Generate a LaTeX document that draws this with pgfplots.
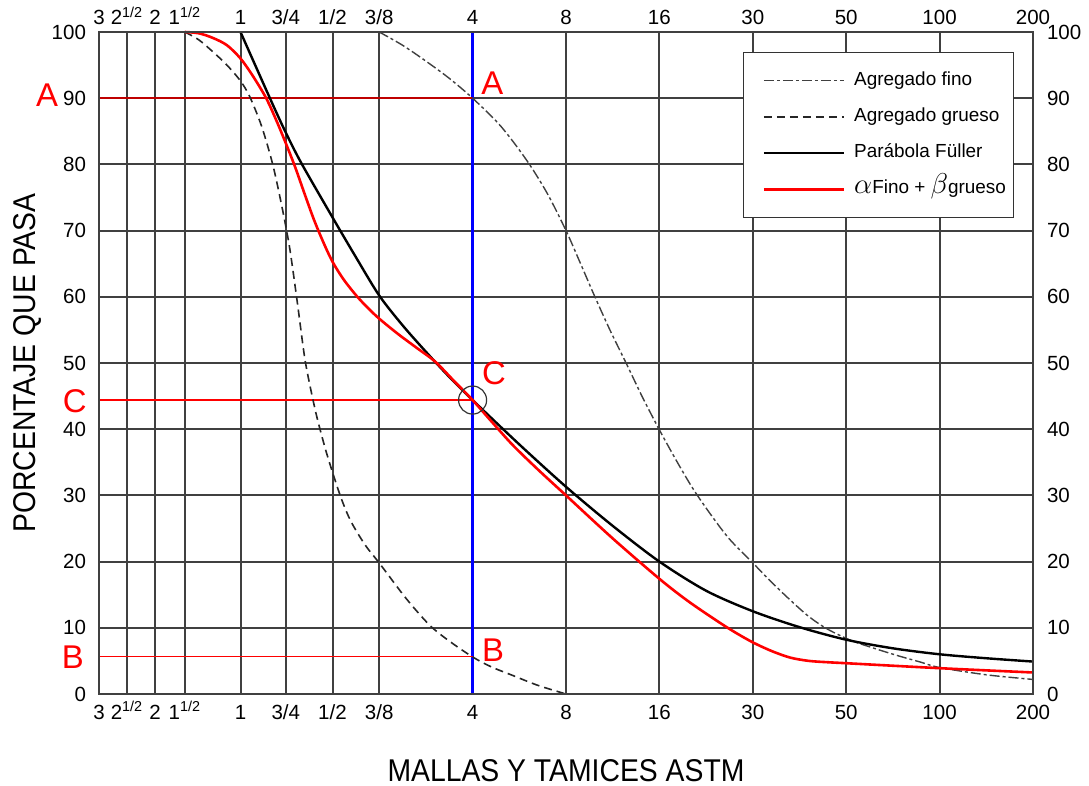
\documentclass[border=0pt]{standalone}
\usepackage{fontspec}
\setmainfont{Liberation Sans}
\newfontfamily\narrowsans[FakeStretch=0.9]{Liberation Sans}
\usepackage{pgfplots}
\pgfplotsset{compat=1.18}

% x position of each sieve: one unit per halving of the opening, 3 in. at 0
\pgfplotsset{
  sieveaxis/.style={
    scale only axis, width=467bp, height=331bp,
    xmin=0, xmax=10, ymin=0, ymax=100,
    xtick={0,0.3,0.6,0.92,1.515,2,2.5,3,4,5,6,7,8,9,10},
    xticklabels={3,2\textsuperscript{1/2},2,1\textsuperscript{1/2},1,3/4,1/2,3/8,4,8,16,30,50,100,200},
    ytick={0,10,...,100},
    major tick length=0pt,
    tick label style={font=\fontsize{10.3}{12}\selectfont},
    xticklabel style={text height=7.5bp, text depth=2bp},
    /pgf/number format/assume math mode=true,
    axis line style={black!75, line width=1bp},
  },
}
\tikzset{redlbl/.style={font=\fontsize{16.5}{16.5}\selectfont, text=red, inner sep=0pt}}

\begin{document}
\begin{tikzpicture}
\begin{axis}[
  sieveaxis, name=main, clip=false,
  grid=major, grid style={black!75, line width=1bp},
  yticklabel style={xshift=-3bp},
  xticklabel style={yshift=-1.5bp},
  legend style={at={(0.979,0.970)}, anchor=north east, draw=black!80, fill=white,
    font=\fontsize{9.5}{11}\selectfont, inner xsep=3.5bp, inner ysep=9.5bp, row sep=8.6bp,
    nodes={inner sep=0pt, text height=7bp, text depth=2.5bp},
    /tikz/every odd column/.append style={column sep=4.5bp}},
  legend cell align=left,
  legend image code/.code={\path (0bp,0bp); \draw[#1] (6bp,0bp) -- (46bp,0bp);},
]
% reference lines A, B, C and sieve No. 4
\addplot[forget plot, blue, line width=1.4bp] coordinates {(4,0) (4,100)};
\addplot[forget plot, red!75!black, line width=1bp] coordinates {(0,90) (4,90)};
\addplot[forget plot, red, line width=0.7bp] coordinates {(0,44.4) (4,44.4)};
\addplot[forget plot, red, line width=0.7bp] coordinates {(0,5.7) (4,5.7)};

% agregado fino
\addplot[black!75, line width=0.7bp, dash pattern=on 5bp off 1.5bp on 1.5bp off 1.5bp, smooth] coordinates {
  (3.0,100) (3.25,98) (3.5,95.6) (3.75,93) (4.0,90) (4.3,85.8) (4.58,80.6) (4.8,75.6)
  (5.0,70) (5.15,65.2) (5.3,60.3) (5.47,55) (5.65,49.8) (5.82,44.8) (6.0,39.9)
  (6.18,35.3) (6.36,31.0) (6.55,27.1) (6.75,23.4) (7.0,19.8) (7.2,16.9) (7.4,14.2)
  (7.6,11.7) (7.8,9.8) (8.05,8.1) (8.3,6.9) (8.55,5.8) (8.8,4.8) (9.0,4.0) (9.5,2.9) (10,2.2)};
\addlegendentry{Agregado fino}
% agregado grueso
\addplot[black!85, line width=0.8bp, dash pattern=on 4bp off 2.5bp, smooth] coordinates {
  (0.92,100) (1.07,98.8) (1.22,97.0) (1.37,95.0) (1.515,92.6) (1.615,90.2) (1.74,85.8)
  (1.86,80) (1.96,73.5) (2.04,67.5) (2.12,59.5) (2.2,51) (2.26,46.5) (2.33,42)
  (2.42,37.2) (2.5,33.5) (2.6,29.3) (2.7,26) (2.85,22.5) (3.0,19.8) (3.29,14.4)
  (3.54,10.4) (3.75,8.0) (4.0,5.6) (4.2,4.1) (4.43,2.8) (4.7,1.3) (5.0,0)};
\addlegendentry{Agregado grueso}
% parabola de Fuller
\addplot[black, line width=1.2bp, smooth] coordinates {
  (1.515,100) (1.83,90) (2.0,84.8) (2.17,80.1) (2.5,72) (2.75,66) (3.0,60.2) (3.25,55.7)
  (3.5,51.7) (3.75,47.9) (4.0,44.4) (4.5,37.7) (5.0,31.3) (5.5,25.4) (6.0,20) (6.5,15.6)
  (7.0,12.5) (7.5,10.1) (8.0,8.2) (8.5,6.9) (9.0,6.0) (9.5,5.4) (10,4.9)};
\addlegendentry{Parábola Füller}
% mezcla
\addplot[red, line width=1.3bp, smooth] coordinates {
  (0.92,100) (1.07,99.8) (1.22,99.1) (1.37,98.0) (1.515,96.0) (1.65,93.3) (1.79,90)
  (1.9,86.6) (2.0,83.2) (2.1,79.6) (2.2,75.6) (2.3,71.7) (2.4,68.3) (2.5,65.3)
  (2.62,62.6) (2.76,60.1) (2.88,58.3) (3.0,56.7) (3.2,54.4) (3.4,52.3) (3.6,50.2)
  (3.8,47.3) (4.0,44.4) (4.2,41.2) (4.43,37.6) (4.7,33.9) (5.0,30) (5.5,23.5) (6.0,17.4)
  (6.3,14.1) (6.6,11.2) (6.8,9.4) (7.0,7.8) (7.2,6.5) (7.4,5.5) (7.6,5.0) (7.8,4.8)
  (8.0,4.65) (9.0,3.9) (10,3.25)};
\addlegendentry{{\fontsize{15}{15}\selectfont$\alpha$}Fino + {\fontsize{15}{15}\selectfont$\beta$}grueso}

\addplot[forget plot, only marks, mark=o, mark size=7bp, mark options={black!80, line width=0.6bp}] coordinates {(4,44.4)};

\node[redlbl] at (axis cs:-0.556,90.5) {A};
\node[redlbl] at (axis cs:4.21,92.3) {A};
\node[redlbl] at (axis cs:-0.26,44.2) {C};
\node[redlbl] at (axis cs:4.23,48.5) {C};
\node[redlbl] at (axis cs:-0.28,5.6) {B};
\node[redlbl] at (axis cs:4.22,6.65) {B};

\node[font=\narrowsans\fontsize{15.8}{16}\selectfont, rotate=90, inner sep=0pt] at ([xshift=-36bp]rel axis cs:0,0.5) {PORCENTAJE QUE PASA};
\node[font=\narrowsans\fontsize{15.8}{16}\selectfont, inner sep=0pt] at ([yshift=-38.5bp]rel axis cs:0.5,0) {MALLAS Y TAMICES ASTM};
\end{axis}
\begin{axis}[
  sieveaxis, at={(main.south west)}, anchor=south west,
  xticklabel pos=upper, yticklabel pos=right,
  yticklabel style={xshift=3.5bp},
  xticklabel style={yshift=-2bp},
]
\end{axis}
\pgfresetboundingbox
\path[use as bounding box] ([shift={(-49.5bp,-46bp)}]main.south west) rectangle ([shift={(28bp,16bp)}]main.north east);
\end{tikzpicture}
\end{document}
